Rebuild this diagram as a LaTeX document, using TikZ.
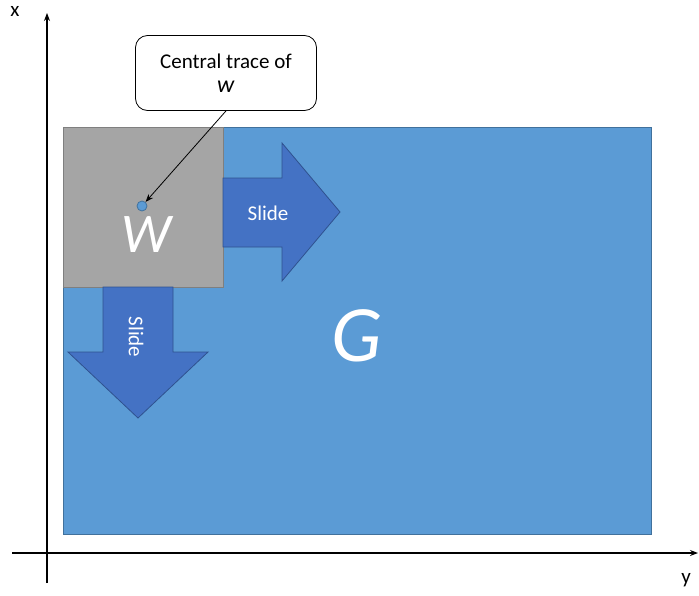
\documentclass[tikz,border=0pt]{standalone}
\usepackage{fontspec}
\setmainfont{Carlito}
\usetikzlibrary{arrows.meta}
\definecolor{gblue}{HTML}{5B9BD5}
\definecolor{gblueborder}{HTML}{41719C}
\definecolor{wgray}{HTML}{A5A5A5}
\definecolor{wgrayborder}{HTML}{7F7F7F}
\definecolor{arrblue}{HTML}{4472C4}
\definecolor{arrborder}{HTML}{2F528F}
\tikzset{
  region/.style={fill=gblue,draw=gblueborder,line width=0.8pt},
  window/.style={fill=wgray,draw=wgrayborder,line width=0.8pt},
  slidearrow/.style={fill=arrblue,draw=arrborder,line width=0.8pt,line join=miter},
  slidetext/.style={text=white,font=\fontsize{21}{24}\selectfont},
  biglabel/.style={text=white,font=\fontsize{56}{60}\selectfont\itshape},
  axis/.style={line width=1.2pt,-{Stealth[length=8pt,width=6pt]}},
  callout/.style={draw=black,fill=white,rounded corners=12pt,line width=0.8pt,minimum width=181pt,minimum height=75pt,align=center,font=\fontsize{21}{24}\selectfont},
  pointer/.style={line width=0.8pt,-{Stealth[length=8pt,width=6pt]}}
}
\begin{document}
\begin{tikzpicture}[x=1pt,y=-1pt]
\useasboundingbox (0,0) rectangle (699,595);
% axes
\coordinate (xs) at (47,583);
\coordinate (xe) at (47,13);
\coordinate (ys) at (12,553);
\coordinate (ye) at (698,553);
\draw[axis] (xs) -- (xe);
\draw[axis] (ys) -- (ye);
\node[font=\fontsize{21}{24}\selectfont] (xl) at (15,11) {x};
\node[font=\fontsize{21}{24}\selectfont] (yl) at (686,580) {y};
% region G
\draw[region] (63,127) rectangle (651,534);
\node[biglabel,font=\fontsize{80}{84}\selectfont\itshape] (G) at (357,336) {G};
% window W
\draw[window] (63,127) rectangle (223,287);
% right arrow
\draw[slidearrow] (223,178) -- (282,178) -- (282,143) -- (340,212) -- (282,281) -- (282,247) -- (223,247) -- cycle;
\node[slidetext] (sr) at (268,213) {Slide};
% down arrow
\draw[slidearrow] (103,287) -- (173,287) -- (173,352) -- (208,352) -- (138,418) -- (68,352) -- (103,352) -- cycle;
\node[slidetext,rotate=-90] (sd) at (136,337) {Slide};
% W label and dot
\node[biglabel] (W) at (146,235) {W};
\node[circle,fill=gblue,draw=gblueborder,line width=0.8pt,minimum size=10pt,inner sep=0pt] (dot) at (142,206) {};
% callout
\node[callout] (c) at (226,73) {Central trace of\\\textit{\fontsize{24}{24}\selectfont w}};
\draw[pointer] (c.south) -- (dot);
\end{tikzpicture}
\end{document}
